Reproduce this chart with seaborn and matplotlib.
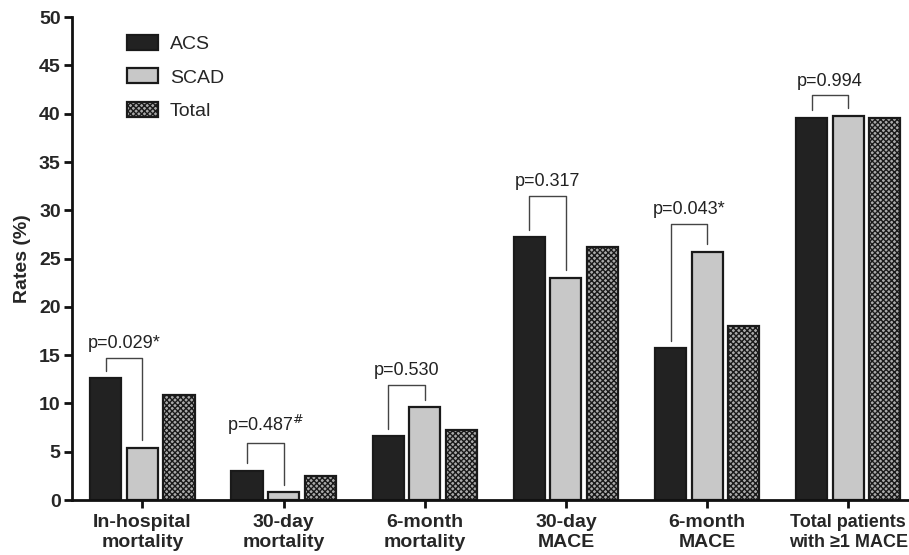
import numpy as np
import pandas as pd
import matplotlib
matplotlib.use("Agg")
import matplotlib.pyplot as plt
import seaborn as sns
from matplotlib.patches import Patch

categories = ["In-hospital\nmortality", "30-day\nmortality", "6-month\nmortality",
              "30-day\nMACE", "6-month\nMACE", "Total patients\nwith \u22651 MACE"]
groups = ["ACS", "SCAD", "Total"]
acs = [12.6, 3.0, 6.6, 27.2, 15.7, 39.6]
scad = [5.4, 0.8, 9.6, 23.0, 25.7, 39.8]
total = [10.9, 2.5, 7.3, 26.2, 18.0, 39.6]
p_labels = ["p=0.029*", "p=0.487$^{\\#}$", "p=0.530", "p=0.317", "p=0.043*", "p=0.994"]
bracket_tops = [14.7, 5.9, 11.9, 31.5, 28.6, 41.9]
y_ticks = [0, 5, 10, 15, 20, 25, 30, 35, 40, 45, 50]

df = pd.DataFrame({
    "category": categories * 3,
    "group": [g for g in groups for _ in categories],
    "rate": acs + scad + total,
})

sns.set_theme(style="ticks")
plt.rcParams["font.family"] = ["Liberation Sans", "DejaVu Sans"]
plt.rcParams["hatch.linewidth"] = 1.0

fig = plt.figure(figsize=(9.09, 5.55), dpi=100)
ax = fig.add_axes([0.079, 0.099, 0.921, 0.870])

palette = {"ACS": "#222222", "SCAD": "#c8c8c8", "Total": "#ffffff"}
sns.barplot(data=df, x="category", y="rate", hue="group", palette=palette,
            edgecolor="#1a1a1a", linewidth=1.6, width=0.777, gap=0.15,
            errorbar=None, ax=ax, legend=False)

for bar in ax.containers[2]:
    bar.set_hatch("xxxxxx")
    bar.set_facecolor("#aaaaaa")

# p-value brackets between ACS and SCAD bars
for i in range(len(categories)):
    b1 = ax.containers[0][i]
    b2 = ax.containers[1][i]
    x1 = b1.get_x() + b1.get_width() / 2
    x2 = b2.get_x() + b2.get_width() / 2
    top = bracket_tops[i]
    ax.plot([x1, x1, x2, x2], [acs[i] + 0.8, top, top, scad[i] + 0.8],
            color="#444444", lw=1.0, clip_on=False)
    ax.text((x1 + x2) / 2, top + 0.6, p_labels[i], ha="center", va="bottom",
            fontsize=13, color="#222222")

ax.set_ylim(0, 50)
ax.set_xlim(-0.5, 5.43)
ax.set_yticks(y_ticks)
ax.set_ylabel("Rates (%)", fontsize=14, fontweight="bold", labelpad=6)
ax.set_xlabel("")
ax.tick_params(axis="x", labelsize=14, width=2, length=6, direction="out", color="#111111", pad=4)
ax.tick_params(axis="y", labelsize=14, width=2, length=6, direction="out", color="#111111", pad=2)
for lab in ax.get_xticklabels() + ax.get_yticklabels():
    lab.set_fontweight("bold")
ax.get_xticklabels()[-1].set_fontsize(13)
for s in ["top", "right"]:
    ax.spines[s].set_visible(False)
for s in ["left", "bottom"]:
    ax.spines[s].set_linewidth(2)
    ax.spines[s].set_color("#111111")

handles = [Patch(facecolor="#222222", edgecolor="#1a1a1a", linewidth=1.6),
           Patch(facecolor="#c8c8c8", edgecolor="#1a1a1a", linewidth=1.6),
           Patch(facecolor="#aaaaaa", edgecolor="#1a1a1a", linewidth=1.6, hatch="xxxxxx")]
ax.legend(handles, groups, loc="upper left", bbox_to_anchor=(0.045, 1.0), frameon=False,
          fontsize=14, handlelength=1.6, handleheight=0.8, labelspacing=0.8, handletextpad=0.6)

fig.savefig("out.png", dpi=100)
